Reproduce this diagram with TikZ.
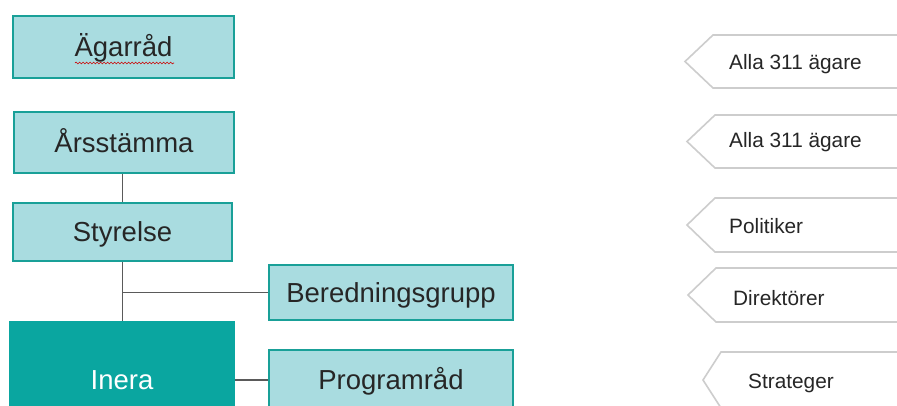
\documentclass[tikz,border=0pt]{standalone}
\usepackage{fontspec}
\setmainfont{Liberation Sans}
\usetikzlibrary{decorations.pathmorphing}
\definecolor{boxfill}{RGB}{169,220,224}
\definecolor{boxline}{RGB}{25,160,152}
\definecolor{inerafill}{RGB}{10,166,160}
\definecolor{txt}{RGB}{38,38,38}
\definecolor{conn}{RGB}{90,90,90}
\definecolor{tagline}{RGB}{205,205,205}
\tikzset{
  orgbox/.style={draw=boxline, line width=1.8pt, fill=boxfill, inner sep=0pt,
    text=txt, font=\fontsize{27.5}{30}\selectfont, text height=19.7pt, text depth=0pt},
  mainbox/.style={orgbox, fill=inerafill, draw=inerafill, text=white},
  conline/.style={draw=conn, line width=1.5pt},
  tagshape/.style={draw=tagline, line width=1.6pt, fill=white, line join=miter},
  tagtext/.style={anchor=west, inner sep=0pt, text=txt, font=\fontsize{20.8}{24}\selectfont,
    text height=14.9pt, text depth=0pt}
}
\begin{document}
\begin{tikzpicture}[x=1pt,y=-1pt]
\useasboundingbox[fill=white] (0,0) rectangle (897,405);
\begin{scope}
\clip (0,0) rectangle (897,405);
% left column
\node[orgbox, minimum width=221pt, minimum height=62pt] (ag) at (123.5,47) {Ägarråd};
\node[orgbox, minimum width=220pt, minimum height=61pt] (ar) at (124,142.5) {Årsstämma};
\node[orgbox, minimum width=219pt, minimum height=58pt] (st) at (122.5,232) {Styrelse};
\node[orgbox, minimum width=244pt, minimum height=55pt] (be) at (391,292.5) {Beredningsgrupp};
\node[mainbox, minimum width=224pt, minimum height=116pt] (in) at (122,380) {Inera};
\node[orgbox, minimum width=244pt, minimum height=60pt] (pr) at (391,380) {Programråd};
\coordinate (j) at (st.south |- be.west);
% connectors
\draw[conline] (st.north |- ar.south) -- (st.north);
\draw[conline] (st.south) -- (st.south |- in.north);
\draw[conline] (j) -- (be.west);
\draw[conline] (in.east) -- (pr.west);
% spell-check squiggle
\draw[red!80!black, line width=0.6pt, decorate, decoration={snake, amplitude=0.9pt, segment length=3.5pt}]
  (75,63) -- (174,63);
% right tags
\draw[tagshape] (900,35) -- (713,35) -- (685,61.5) -- (713,88) -- (900,88);
\draw[tagshape] (900,115) -- (715,115) -- (687,141.5) -- (715,168) -- (900,168);
\draw[tagshape] (900,198) -- (715,198) -- (687,225) -- (715,252) -- (900,252);
\draw[tagshape] (900,268) -- (716,268) -- (688,295) -- (716,322) -- (900,322);
\draw[tagshape] (900,352) -- (721,352) -- (703,380) -- (721,408) -- (900,408);
\node[tagtext] (t1) at (729,62) {Alla 311 ägare};
\node[tagtext] (t2) at (729,140) {Alla 311 ägare};
\node[tagtext] (t3) at (729,226) {Politiker};
\node[tagtext] (t4) at (733,298) {Direktörer};
\node[tagtext] (t5) at (748,381) {Strateger};
\end{scope}
\end{tikzpicture}
\end{document}
